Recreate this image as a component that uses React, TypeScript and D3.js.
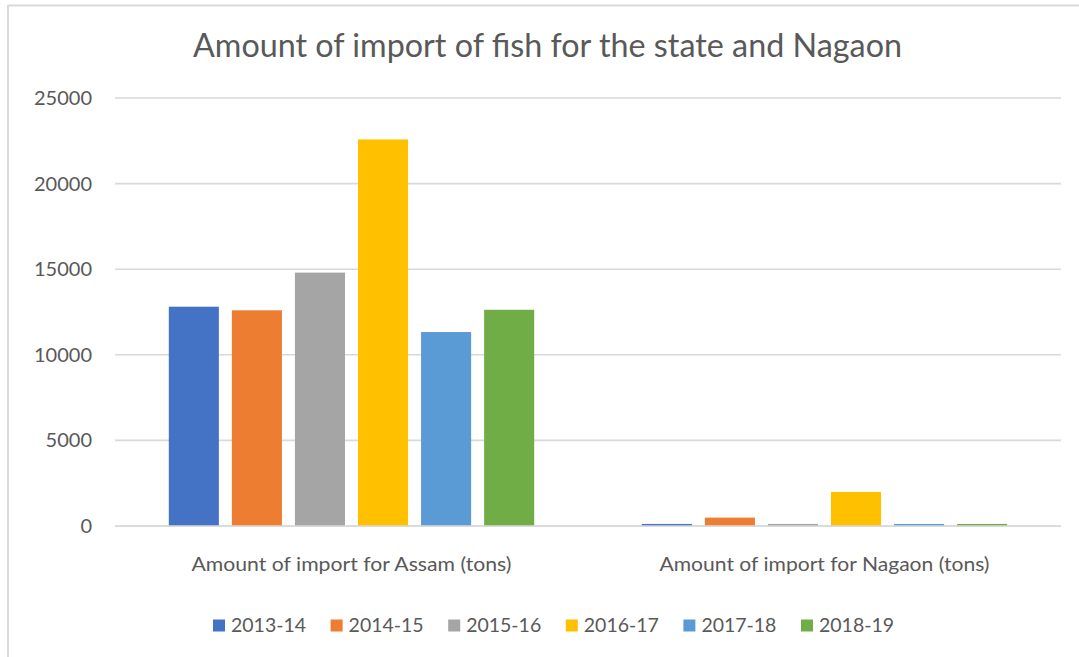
import React from "react";
import * as d3 from "d3";

const title = "Amount of import of fish for the state and Nagaon";
const categories = ["Amount of import for Assam (tons)", "Amount of import for Nagaon (tons)"];
const seriesNames = ["2013-14", "2014-15", "2015-16", "2016-17", "2017-18", "2018-19"];
const seriesColors = ["#4472C4", "#ED7D31", "#A5A5A5", "#FFC000", "#5B9BD5", "#70AD47"];
// values per series: [Assam, Nagaon]
const v2013 = [12810, 120];
const v2014 = [12600, 490];
const v2015 = [14800, 120];
const v2016 = [22580, 1990];
const v2017 = [11330, 120];
const v2018 = [12630, 120];
const seriesValues = [v2013, v2014, v2015, v2016, v2017, v2018];
const yTicks = [0, 5000, 10000, 15000, 20000, 25000];

const W = 1079;
const H = 657;
const left = 115;
const right = 1061;
const top = 98;
const bottom = 526;
const TEXT = "#595959";
const FONT = "Lato, 'Open Sans', 'Liberation Sans', sans-serif";

export default function App() {
  const y = d3.scaleLinear().domain([0, 25000]).range([bottom, top]);
  const x0 = d3.scaleBand<string>().domain(categories).range([left, right]).padding(0);
  const x1 = d3
    .scaleBand<string>()
    .domain(seriesNames)
    .range([0, x0.bandwidth()])
    .paddingInner(0.206)
    .paddingOuter(0.853);

  const legendX = (i: number) => 213 + i * 117.6;

  return (
    <svg width={W} height={H} style={{ position: "absolute", left: 0, top: 0, background: "#fff" }}>
      <rect x={0} y={0} width={W} height={H} fill="#fff" />
      {/* frame */}
      <line x1={8} y1={5.5} x2={W} y2={5.5} stroke="#D9D9D9" strokeWidth={2} />
      <line x1={8} y1={5} x2={8} y2={H} stroke="#D9D9D9" strokeWidth={2} />

      <text
        x={(193 + 902) / 2}
        y={57}
        textAnchor="middle"
        fontFamily={FONT}
        fontSize={32}
        fill={TEXT}
        textLength={709}
        lengthAdjust="spacingAndGlyphs"
      >
        {title}
      </text>

      {yTicks.map((t) => (
        <g key={t}>
          <line x1={left} x2={right} y1={y(t)} y2={y(t)} stroke="#D9D9D9" strokeWidth={1.6} />
          <text
            x={92}
            y={y(t)}
            dy="0.35em"
            textAnchor="end"
            fontFamily={FONT}
            fontSize={20}
            fill={TEXT}
          >
            {t}
          </text>
        </g>
      ))}

      {categories.map((c, ci) => (
        <g key={c} transform={`translate(${x0(c)},0)`}>
          {seriesNames.map((s, si) => {
            const v = seriesValues[si][ci];
            return (
              <rect
                key={s}
                x={x1(s)}
                y={y(v)}
                width={x1.bandwidth()}
                height={bottom - y(v)}
                fill={seriesColors[si]}
              />
            );
          })}
          <text
            x={x0.bandwidth() / 2}
            y={571}
            textAnchor="middle"
            fontFamily={FONT}
            fontSize={20}
            fill={TEXT}
            textLength={ci === 0 ? 320 : 330}
            lengthAdjust="spacingAndGlyphs"
          >
            {c}
          </text>
        </g>
      ))}
      <line x1={left} x2={right} y1={bottom} y2={bottom} stroke="#D9D9D9" strokeWidth={1.6} />

      {seriesNames.map((s, i) => (
        <g key={s}>
          <rect x={legendX(i)} y={619.5} width={12} height={12} fill={seriesColors[i]} />
          <text
            x={legendX(i) + 18}
            y={632}
            fontFamily={FONT}
            fontSize={20}
            fill={TEXT}
            textLength={75}
            lengthAdjust="spacingAndGlyphs"
          >
            {s}
          </text>
        </g>
      ))}
    </svg>
  );
}
